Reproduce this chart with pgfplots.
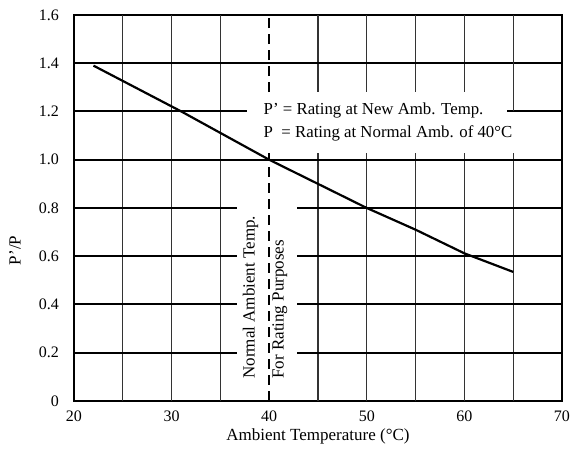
\documentclass[border=0pt]{standalone}
\usepackage{fontspec}
\setmainfont{Liberation Serif}
\usepackage{pgfplots}
\pgfplotsset{compat=1.18}
\begin{document}
\begin{tikzpicture}
\begin{axis}[
    at={(0,0)}, anchor=south west,
    width=244pt, height=193pt, scale only axis,
    xmin=20, xmax=70, ymin=0, ymax=1.6,
    xtick={20,30,40,50,60,70},
    ytick={0,0.2,0.4,0.6,0.8,1.0,1.2,1.4,1.6},
    yticklabels={0,0.2,0.4,0.6,0.8,1.0,1.2,1.4,1.6},
    major tick length=0pt,
    /pgf/number format/assume math mode=true,
    tick label style={font=\fontsize{8}{9}\selectfont},
    yticklabel style={xshift=-4pt},
    xticklabel style={yshift=-1.5pt},
    axis line style={line width=1pt},
    xlabel={Ambient Temperature (°C)},
    ylabel={P'/P},
    label style={font=\fontsize{8.5}{10}\selectfont},
    xlabel style={at={(axis description cs:0.5,-0.093)}, anchor=center},
    ylabel style={at={(axis description cs:-0.121,0.39)}, anchor=center},
]
% thin vertical rules every 5 degrees
\pgfplotsinvokeforeach{25,30,35,45,50,55,60,65}{
  \draw[black!80, line width=0.6pt] (axis cs:#1,0) -- (axis cs:#1,1.6);
}
% heavy horizontal rules
\pgfplotsinvokeforeach{0.2,0.4,0.6,0.8,1.0,1.2,1.4}{
  \draw[black, line width=1pt] (axis cs:20,#1) -- (axis cs:70,#1);
}
% blank areas behind the notes
\fill[white] (axis cs:37.7,1.03) rectangle (axis cs:65.4,1.28);
\fill[white] (axis cs:36.7,0.07) rectangle (axis cs:42.8,0.86);
\draw[black, line width=1pt] (axis cs:64.4,1.2) -- (axis cs:70,1.2);
\draw[black!80, line width=0.6pt] (axis cs:65,1.2) -- (axis cs:65,1.6);
% 40 deg reference line
\draw[black, line width=0.7pt, dash pattern=on 5pt off 3pt] (axis cs:40,0) -- (axis cs:40,1.03);
\draw[black, line width=0.7pt, dash pattern=on 5pt off 3pt] (axis cs:40,1.28) -- (axis cs:40,1.6);

\node[anchor=west, align=left, font=\fontsize{8.4}{11.5}\selectfont, inner sep=0pt]
  at (axis cs:39.4,1.155) {P' = Rating at New Amb. Temp.\\P\ \ = Rating at Normal Amb. of 40°C};
\node[rotate=90, font=\fontsize{8.5}{10}\selectfont, inner sep=0pt]
  at (axis cs:38.1,0.43) {Normal Ambient Temp.};
\node[rotate=90, font=\fontsize{8.5}{10}\selectfont, inner sep=0pt]
  at (axis cs:41.1,0.38) {For Rating Purposes};

\addplot[black, line width=1.1pt] coordinates {
  (22,1.39)(31,1.2)(40,1.0)(50,0.8)(55,0.71)(60,0.612)(65,0.535)
};
\end{axis}
\path (-37pt,-24.5pt) rectangle (253pt,200.5pt);
\end{tikzpicture}
\end{document}
